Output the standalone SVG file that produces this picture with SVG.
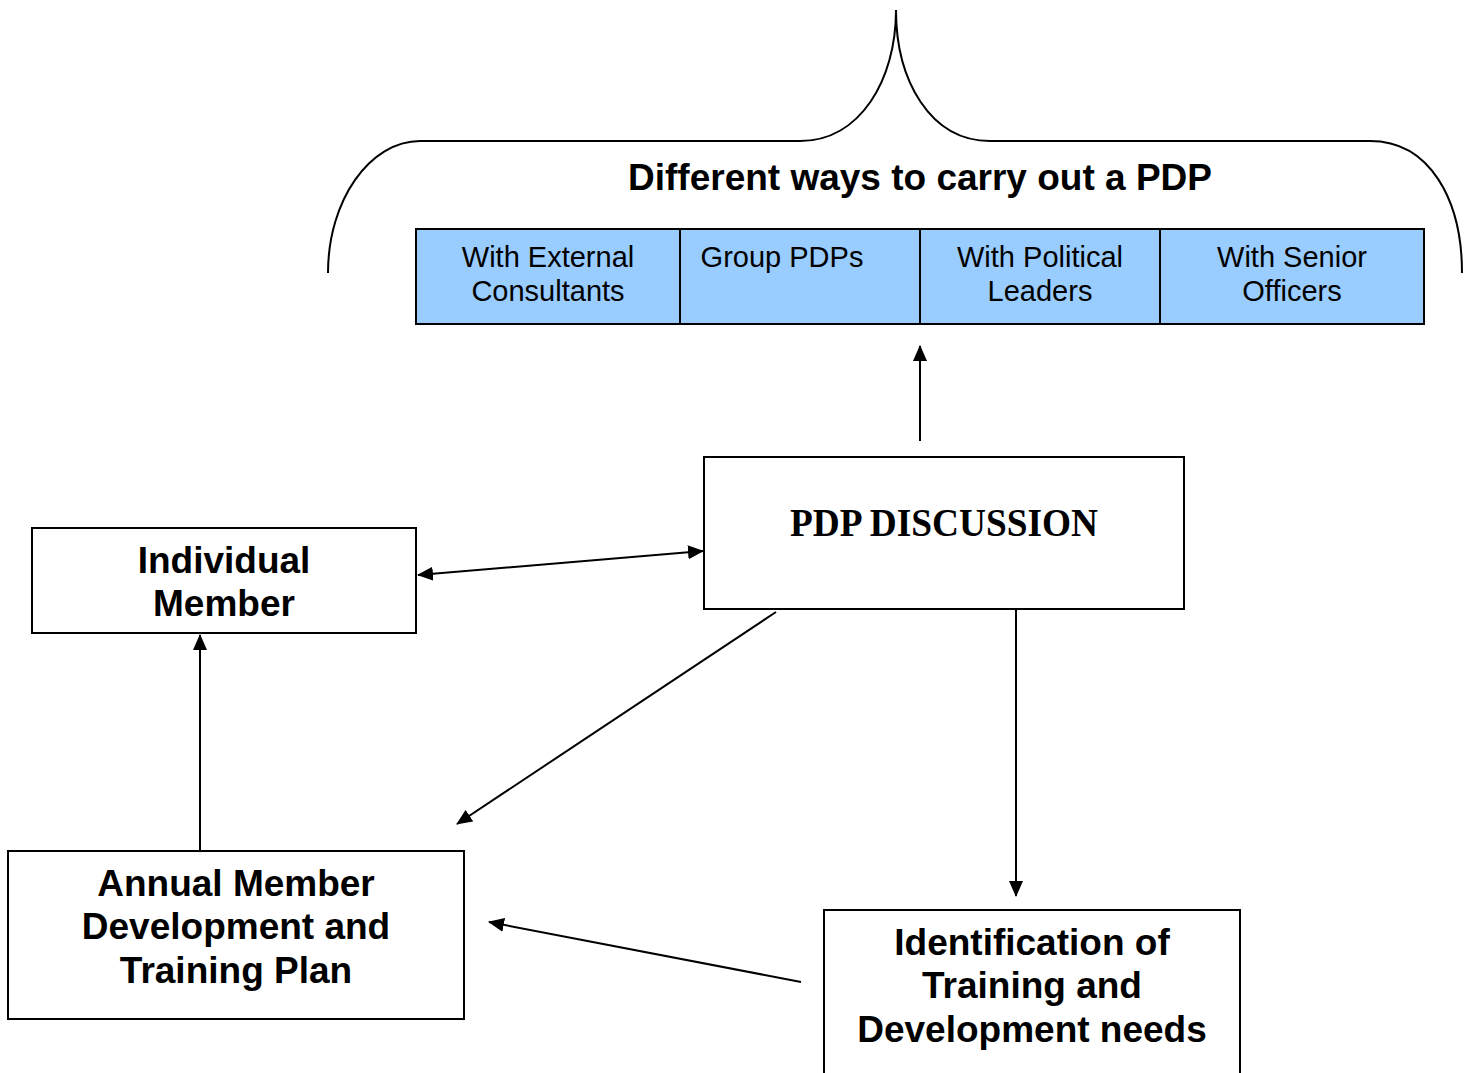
<svg xmlns="http://www.w3.org/2000/svg" width="1464" height="1073" viewBox="0 0 1464 1073">
<style>
.box{fill:#fff;stroke:#000;stroke-width:2}
.cell{fill:#99CCFF;stroke:#000;stroke-width:2}
.bt{font-family:"Liberation Sans",Arial,sans-serif;font-weight:bold;font-size:37px;text-anchor:middle;fill:#000}
.ct{font-family:"Liberation Sans",Arial,sans-serif;font-size:29px;text-anchor:middle;fill:#000}
.tt{font-family:"Liberation Serif","Times New Roman",serif;font-weight:bold;font-size:40px;text-anchor:middle;fill:#000}
.ln{stroke:#000;stroke-width:2;fill:none}
</style>
<defs>
<marker id="ah" markerWidth="16" markerHeight="14" refX="15" refY="7" orient="auto-start-reverse" markerUnits="userSpaceOnUse">
<path d="M0,0 L16,7 L0,14 Z" fill="#000"/>
</marker>
</defs>
<g id="brace">
<path class="ln" d="M328,273 C328,200 370,141 420,141 L800,141 C860,141 896,80 896,10 C896,80 930,141 990,141 L1370,141 C1430,141 1462,200 1462,273"/>
<text class="bt" x="920" y="190">Different ways to carry out a PDP</text>
</g>
<g id="ways">
<rect class="cell" x="416" y="229" width="264" height="95"/>
<rect class="cell" x="680" y="229" width="240" height="95"/>
<rect class="cell" x="920" y="229" width="240" height="95"/>
<rect class="cell" x="1160" y="229" width="264" height="95"/>
<text class="ct" x="548" y="267">With External</text>
<text class="ct" x="548" y="301">Consultants</text>
<text class="ct" x="782" y="267">Group PDPs</text>
<text class="ct" x="1040" y="267">With Political</text>
<text class="ct" x="1040" y="301">Leaders</text>
<text class="ct" x="1292" y="267">With Senior</text>
<text class="ct" x="1292" y="301">Officers</text>
</g>
<g id="pdp-discussion">
<rect class="box" x="704" y="457" width="480" height="152"/>
<text class="tt" x="944" y="536" textLength="308" lengthAdjust="spacingAndGlyphs">PDP DISCUSSION</text>
</g>
<g id="individual-member">
<rect class="box" x="32" y="528" width="384" height="105"/>
<text class="bt" x="224" y="573">Individual</text>
<text class="bt" x="224" y="616">Member</text>
</g>
<g id="annual-plan">
<rect class="box" x="8" y="851" width="456" height="168"/>
<text class="bt" x="236" y="896">Annual Member</text>
<text class="bt" x="236" y="939">Development and</text>
<text class="bt" x="236" y="983">Training Plan</text>
</g>
<g id="identification">
<path class="box" d="M824,1080 L824,910 L1240,910 L1240,1080"/>
<text class="bt" x="1032" y="955">Identification of</text>
<text class="bt" x="1032" y="998">Training and</text>
<text class="bt" x="1032" y="1042">Development needs</text>
</g>
<g id="connectors">
<line class="ln" x1="920" y1="441" x2="920" y2="346" marker-end="url(#ah)"/>
<line class="ln" x1="418" y1="575" x2="703" y2="551" marker-start="url(#ah)" marker-end="url(#ah)"/>
<line class="ln" x1="776" y1="612" x2="457" y2="824" marker-end="url(#ah)"/>
<line class="ln" x1="1016" y1="610" x2="1016" y2="896" marker-end="url(#ah)"/>
<line class="ln" x1="801" y1="982" x2="489" y2="922" marker-end="url(#ah)"/>
<line class="ln" x1="200" y1="850" x2="200" y2="635" marker-end="url(#ah)"/>
</g>
</svg>
